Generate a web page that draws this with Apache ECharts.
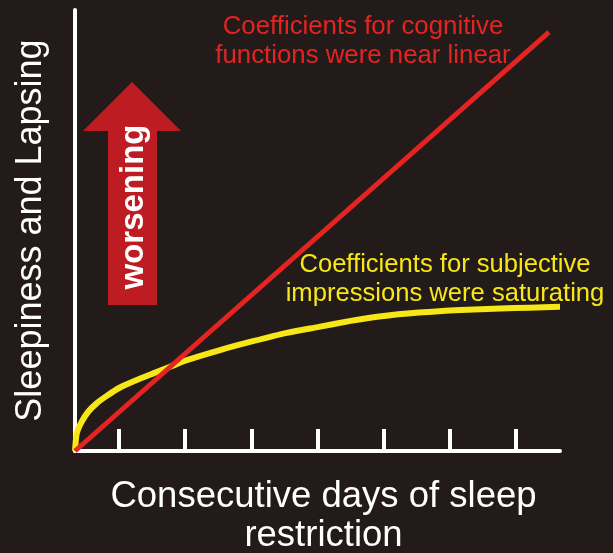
<!DOCTYPE html>
<html>
<head>
<meta charset="utf-8">
<script src="https://cdn.jsdelivr.net/npm/echarts@6/dist/echarts.min.js"></script>
<style>
  html, body { margin: 0; padding: 0; background: #231b1a; }
  #chart { width: 613px; height: 553px; }
</style>
</head>
<body>
<div id="chart"></div>
<script>
// schematic: x in arbitrary day units, y in arbitrary severity units
const tickDays = [2, 5, 8, 11, 14, 17, 20]

// red: near linear (cognitive)
const cognitive = [[0, 0], [21.5, 95]]

// yellow: saturating (subjective)
const subjective = [
  [0, 0], [0.08, 4.0], [0.30, 6.6], [0.60, 8.9], [0.98, 10.8], [1.44, 12.5],
  [2.04, 14.4], [2.80, 16.1], [3.55, 17.6], [4.31, 19.1], [5.07, 20.6],
  [6.58, 22.9], [8.07, 24.9], [9.61, 26.8], [11.0, 28.1], [12.5, 29.5],
  [13.8, 30.5], [15.6, 31.4], [17.5, 32.0], [19.3, 32.3], [20.6, 32.5],
  [22.0, 32.7]
]

const RED = '#e42421'
const YELLOW = '#f7e716'
const FONT = 'Liberation Sans, Arial, sans-serif'

const chart = echarts.init(document.getElementById('chart'))

chart.setOption({
  backgroundColor: '#231b1a',
  animation: false,
  grid: { left: 75, right: 53, top: 10, bottom: 102, outerBoundsMode: 'none' },
  xAxis: {
    type: 'value',
    min: 0,
    max: 22,
    name: 'Consecutive days of sleep\nrestriction',
    nameLocation: 'middle',
    nameGap: 26,
    nameTextStyle: {
      color: '#fff', fontSize: 36.5, lineHeight: 39, fontFamily: FONT,
      padding: [0, 0, 0, 12]
    },
    axisLine: { lineStyle: { color: '#fff', width: 4 } },
    axisTick: {
      customValues: tickDays,
      inside: true,
      length: 22,
      lineStyle: { color: '#fff', width: 4 }
    },
    axisLabel: { show: false },
    splitLine: { show: false }
  },
  yAxis: {
    type: 'value',
    min: 0,
    max: 100,
    name: 'Sleepiness and Lapsing',
    nameLocation: 'middle',
    nameGap: 26,
    nameTextStyle: { color: '#fff', fontSize: 36, fontFamily: FONT },
    axisLine: { show: true, lineStyle: { color: '#fff', width: 4 } },
    axisTick: { show: false },
    axisLabel: { show: false },
    splitLine: { show: false }
  },
  series: [
    {
      name: 'subjective',
      type: 'line',
      data: subjective,
      smooth: 0.2,
      showSymbol: false,
      lineStyle: { color: YELLOW, width: 6 }
    },
    {
      name: 'cognitive',
      type: 'line',
      data: cognitive,
      showSymbol: false,
      lineStyle: { color: RED, width: 5 }
    }
  ],
  graphic: [
    {
      type: 'polygon',
      shape: {
        points: [[132, 82], [181, 131], [157, 131], [157, 305], [108, 305], [108, 131], [83, 131]]
      },
      style: { fill: '#be1c23' }
    },
    {
      type: 'text',
      x: 134,
      y: 207,
      rotation: Math.PI / 2,
      style: {
        text: 'worsening',
        fill: '#fff',
        font: 'bold 33px ' + FONT,
        align: 'center',
        verticalAlign: 'middle'
      }
    },
    {
      type: 'text',
      x: 363,
      y: 41,
      style: {
        text: 'Coefficients for cognitive\nfunctions were near linear',
        fill: RED,
        font: '25.8px ' + FONT,
        lineHeight: 29,
        align: 'center',
        verticalAlign: 'middle'
      }
    },
    {
      type: 'text',
      x: 445,
      y: 279,
      style: {
        text: 'Coefficients for subjective\nimpressions were saturating',
        fill: YELLOW,
        font: '25.6px ' + FONT,
        lineHeight: 29,
        align: 'center',
        verticalAlign: 'middle'
      }
    }
  ]
})
</script>
</body>
</html>
